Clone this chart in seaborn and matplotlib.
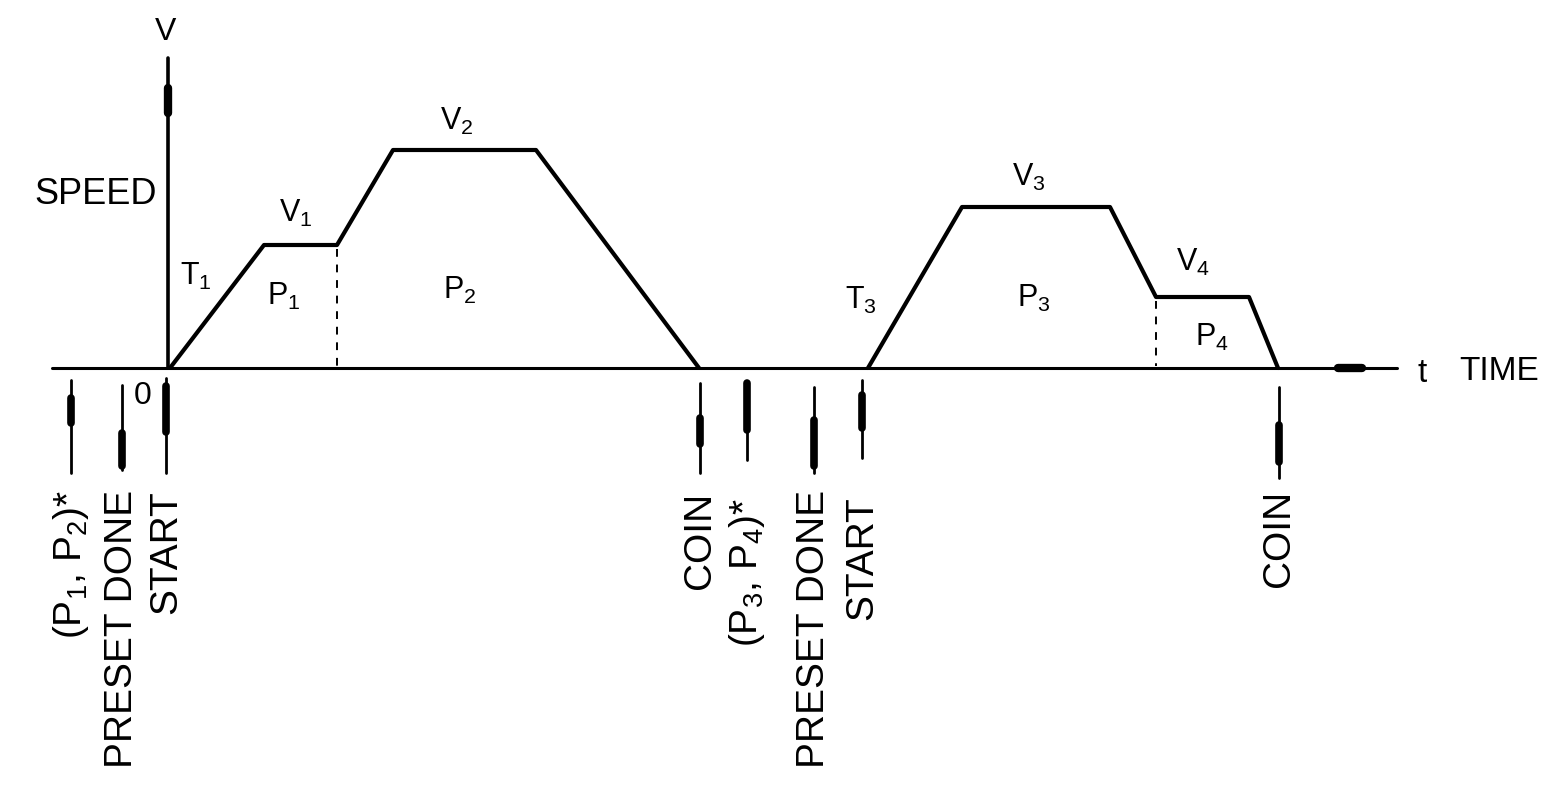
import matplotlib
matplotlib.use("Agg")
import matplotlib.pyplot as plt
import seaborn as sns
import pandas as pd

# speed profiles in picture units (t to the right, v downwards)
profile_1_t = [170, 264, 337, 393, 536, 699]
profile_1_v = [368, 245, 245, 150, 150, 368]
profile_2_t = [868, 962, 1110, 1156, 1249, 1278]
profile_2_v = [368, 207, 207, 297, 297, 368]

# step boundaries (dashed)
step_t = [337, 1156]
step_v = [245, 297]

# signal events under the time axis
event_labels = ["(P$_1$, P$_2$)*", "PRESET DONE", "START", "COIN",
                "(P$_3$, P$_4$)*", "PRESET DONE", "START", "COIN"]
event_t = [71, 122, 166, 700, 747, 814, 862, 1279]

# segment labels
segment_labels = ["T$_1$", "P$_1$", "V$_1$", "V$_2$", "P$_2$",
                  "T$_3$", "V$_3$", "P$_3$", "V$_4$", "P$_4$"]


def draw_profiles(ax):
    df = pd.concat([
        pd.DataFrame({"t": profile_1_t, "v": profile_1_v, "move": "1"}),
        pd.DataFrame({"t": profile_2_t, "v": profile_2_v, "move": "2"}),
    ])
    sns.lineplot(data=df, x="t", y="v", units="move", estimator=None,
                 color="black", lw=3.0, sort=False, legend=False, ax=ax)
    for t, v in zip(step_t, step_v):
        ax.plot([t, t], [v + 4, 366], color="black", lw=1.4,
                linestyle=(0, (4, 4)))


def draw_axes(ax):
    base = 368
    # time axis
    ax.plot([52, 1397], [base, base], color="black", lw=2.2)
    ax.plot([1338, 1362], [base, base], color="black", lw=6)
    ax.text(1422, 374, "t", fontsize=24, ha="center", va="center")
    ax.text(1459, 372, "TIME", fontsize=24, ha="left", va="center")
    # speed axis
    ax.plot([168, 168], [58, base], color="black", lw=2.6)
    ax.plot([168, 168], [88, 113], color="black", lw=6)
    ax.text(166, 32, "V", fontsize=23, ha="center", va="center")
    ax.text(157, 194, "SPEED", fontsize=26, ha="right", va="center")
    ax.text(143, 396, "0", fontsize=23, ha="center", va="center")


def draw_events(ax):
    spans = [(380, 473), (385, 470), (378, 473), (383, 473),
             (383, 460), (387, 473), (380, 458), (387, 478)]
    heads = [(398, 423), (433, 466), (386, 432), (418, 444),
             (383, 430), (420, 466), (395, 428), (425, 462)]
    tops = [490, 490, 490, 492, 498, 490, 496, 490]
    for t, lab, (y0, y1), (h0, h1), top in zip(event_t, event_labels,
                                                spans, heads, tops):
        ax.plot([t, t], [y0, y1], color="black", lw=2.0)
        ax.plot([t, t], [h0, h1], color="black", lw=5.5)
        ax.text(t, top, lab, fontsize=28, rotation=90,
                ha="center", va="top")


def draw_segment_labels(ax):
    spots = [(196, 276), (284, 296), (296, 213), (457, 121), (460, 290),
             (861, 300), (1029, 177), (1034, 298), (1193, 262), (1212, 337)]
    for lab, (x, y) in zip(segment_labels, spots):
        ax.text(x, y, lab, fontsize=22, ha="center", va="center")


def main():
    sns.set_style("white")
    plt.rcParams["font.family"] = ["Liberation Sans", "DejaVu Sans"]
    plt.rcParams["mathtext.default"] = "regular"
    plt.rcParams["text.color"] = "black"

    fig = plt.figure(figsize=(15.44, 7.85), dpi=100)
    ax = fig.add_axes([0, 0, 1, 1])
    draw_profiles(ax)
    draw_axes(ax)
    draw_events(ax)
    draw_segment_labels(ax)
    ax.set_xlim(0, 1544)
    ax.set_ylim(785, 0)
    ax.axis("off")
    fig.savefig("out.png", dpi=100, facecolor="white")
    plt.close(fig)


if __name__ == "__main__":
    main()
